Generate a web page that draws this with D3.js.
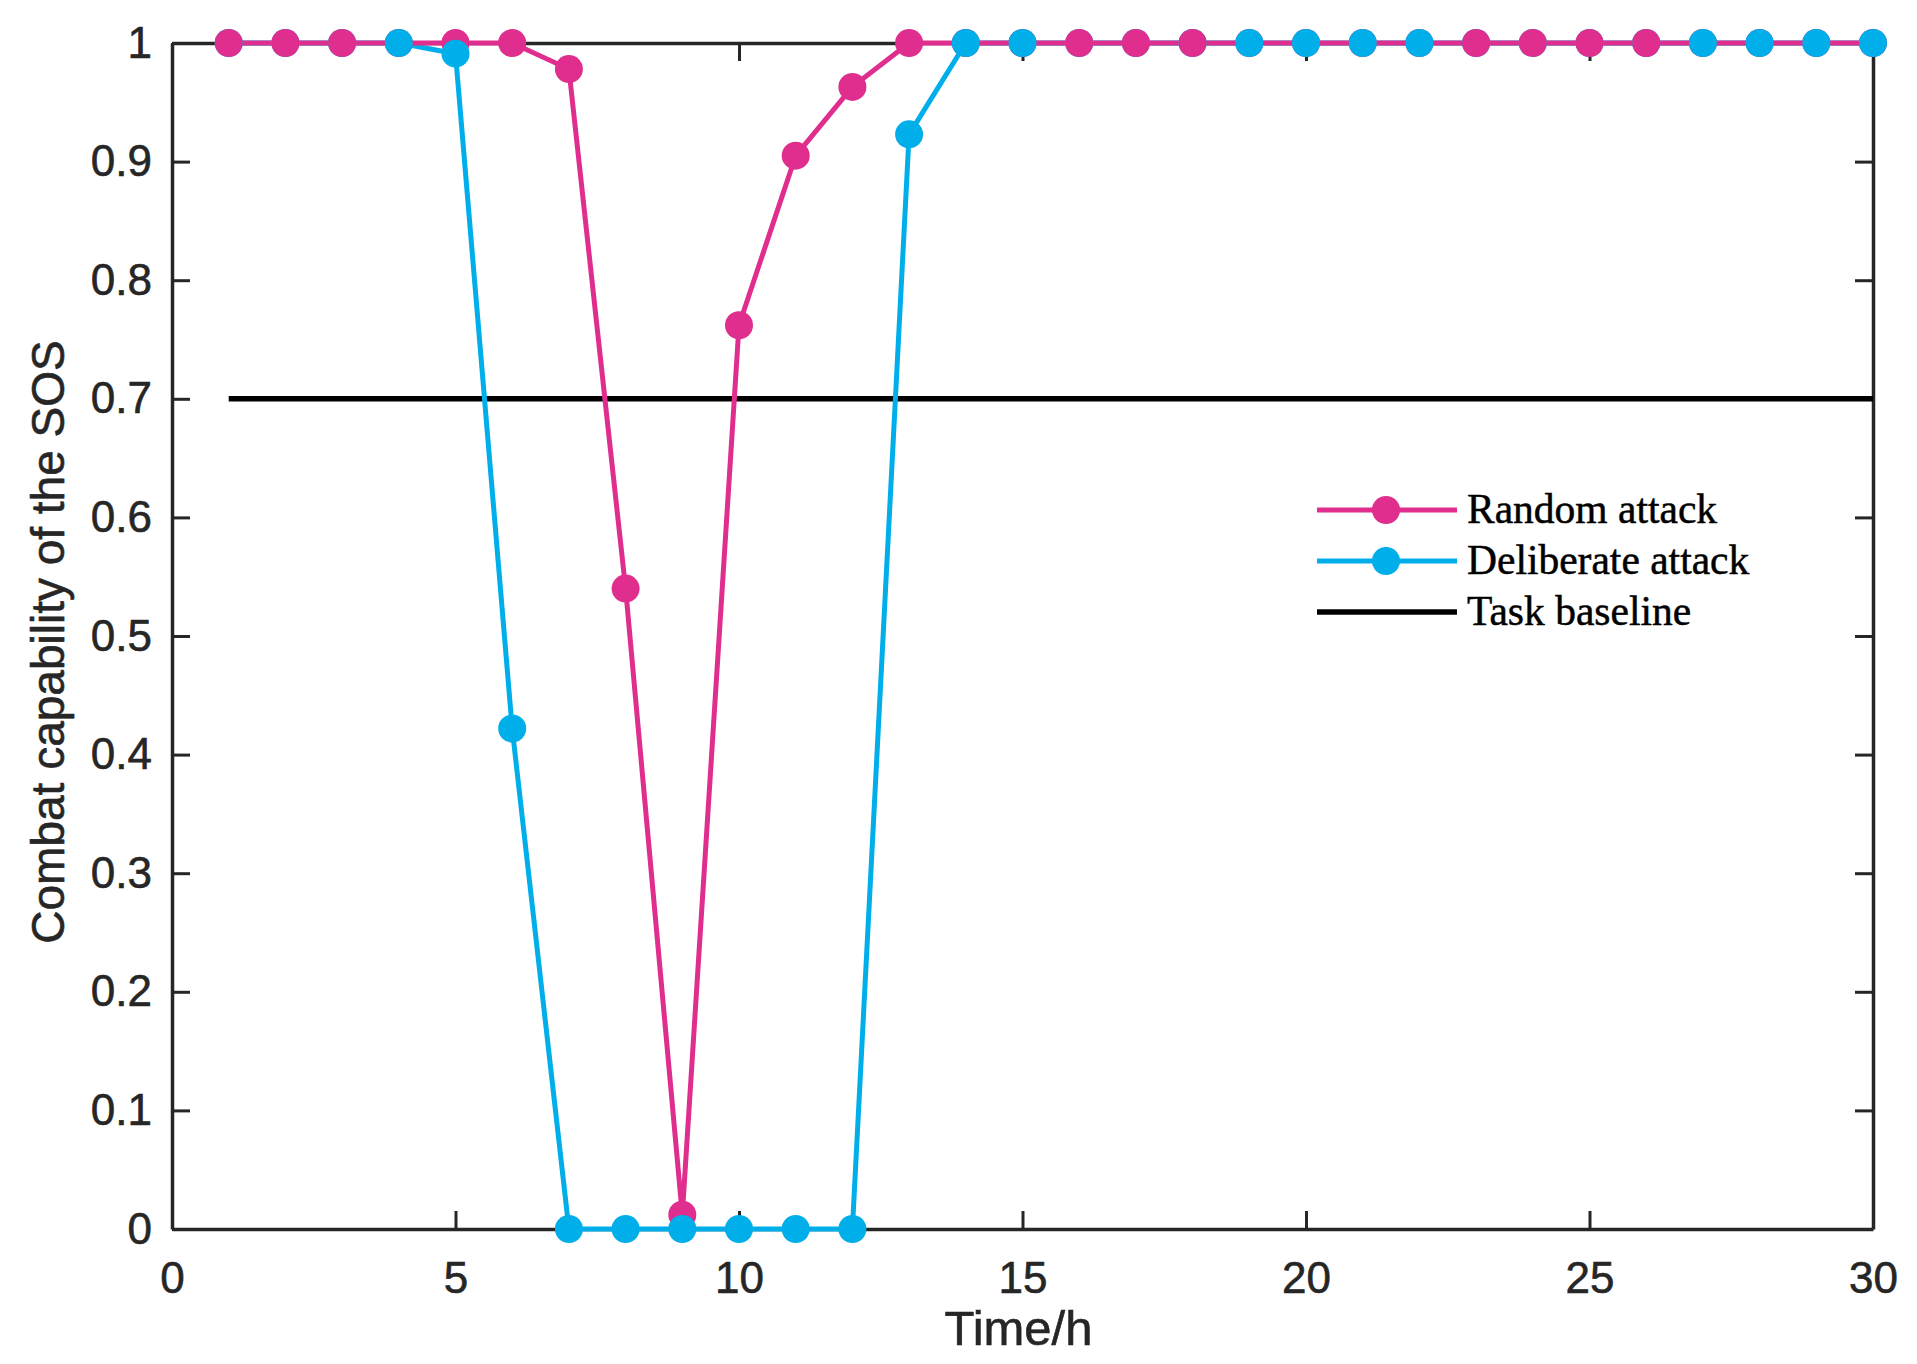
<!DOCTYPE html>
<html>
<head>
<meta charset="utf-8">
<script src="https://cdn.jsdelivr.net/npm/d3@7"></script>
<style>
  body { margin: 0; background: #fff; }
</style>
</head>
<body>
<div id="chart"></div>
<script>
// data
const hours = d3.range(1, 31);
const randomAttack = [1, 1, 1, 1, 1, 1, 0.978, 0.54, 0.012, 0.762, 0.905, 0.963, 1, 1, 1,
                      1, 1, 1, 1, 1, 1, 1, 1, 1, 1, 1, 1, 1, 1, 1];
const deliberateAttack = [1, 1, 1, 1, 0.991, 0.422, 0, 0, 0, 0, 0, 0, 0.923, 1, 1,
                          1, 1, 1, 1, 1, 1, 1, 1, 1, 1, 1, 1, 1, 1, 1];
const baseline = 0.7;
// hours where the blue marker sits over the pink one
const blueOnTop = [4, 5, 9, 14, 15, 19, 20, 21, 22, 27, 28, 29, 30];
const xTicks = [0, 5, 10, 15, 20, 25, 30];
const yTicks = [0, 0.1, 0.2, 0.3, 0.4, 0.5, 0.6, 0.7, 0.8, 0.9, 1];
const legendNames = ["Random attack", "Deliberate attack", "Task baseline"];

const W = 1917, H = 1364;
const mLeft = 172, mRight = 1873, mTop = 43, mBottom = 1229;
const pink = "#E02E8E", blue = "#00AEEA", axisCol = "#262626";

const svg = d3.select("#chart").append("svg")
    .attr("width", W).attr("height", H)
    .style("font-family", "'Liberation Sans', Arial, sans-serif");

const x = d3.scaleLinear().domain([0, 30]).range([mLeft, mRight]);
const y = d3.scaleLinear().domain([0, 1]).range([mBottom, mTop]);

const fmtY = d => d === 0 || d === 1 ? String(d) : d.toFixed(1);

// axes, ticks pointing inward like matlab
const styleAxis = g => {
    g.select(".domain").attr("stroke", axisCol).attr("stroke-width", 3.5);
    g.selectAll(".tick line").attr("stroke", axisCol).attr("stroke-width", 3);
    g.selectAll(".tick text").attr("fill", axisCol).style("font-size", "44px")
        .style("font-family", "'Liberation Sans', Arial, sans-serif")
        .attr("stroke", axisCol).attr("stroke-width", 0.6);
};

svg.append("g")
    .attr("transform", `translate(0, ${mBottom})`)
    .call(d3.axisBottom(x).tickValues(xTicks).tickSizeInner(-18).tickSizeOuter(0).tickPadding(33))
    .call(styleAxis);

svg.append("g")
    .attr("transform", `translate(0, ${mTop})`)
    .call(d3.axisTop(x).tickValues(xTicks).tickSizeInner(-18).tickSizeOuter(0).tickFormat(""))
    .call(styleAxis);

svg.append("g")
    .attr("transform", `translate(${mLeft}, 0)`)
    .call(d3.axisLeft(y).tickValues(yTicks).tickSizeInner(-18).tickSizeOuter(0).tickPadding(20).tickFormat(fmtY))
    .call(styleAxis);

svg.append("g")
    .attr("transform", `translate(${mRight}, 0)`)
    .call(d3.axisRight(y).tickValues(yTicks).tickSizeInner(-18).tickSizeOuter(0).tickFormat(""))
    .call(styleAxis);

// axis titles
svg.append("text")
    .attr("x", (mLeft + mRight) / 2 - 4)
    .attr("y", 1345)
    .attr("text-anchor", "middle")
    .style("font-size", "49px")
    .attr("fill", axisCol).attr("stroke", axisCol).attr("stroke-width", 0.6)
    .text("Time/h");

svg.append("text")
    .attr("transform", `translate(64, ${(mTop + mBottom) / 2 + 6}) rotate(-90)`)
    .attr("text-anchor", "middle")
    .style("font-size", "46px")
    .attr("fill", axisCol).attr("stroke", axisCol).attr("stroke-width", 0.6)
    .text("Combat capability of the SOS");

// baseline
svg.append("line")
    .attr("x1", x(hours[0])).attr("x2", x(hours[hours.length - 1]))
    .attr("y1", y(baseline)).attr("y2", y(baseline))
    .attr("stroke", "#000").attr("stroke-width", 5.5);

const line = d3.line().x(d => x(d[0])).y(d => y(d[1]));
const pinkPts = hours.map((h, i) => [h, randomAttack[i]]);
const bluePts = hours.map((h, i) => [h, deliberateAttack[i]]);

svg.append("path").datum(bluePts)
    .attr("d", line).attr("fill", "none")
    .attr("stroke", blue).attr("stroke-width", 5);
svg.append("path").datum(pinkPts)
    .attr("d", line).attr("fill", "none")
    .attr("stroke", pink).attr("stroke-width", 5);

const R = 14;
const drawDots = (pts, col) => svg.append("g").selectAll("circle")
    .data(pts).join("circle")
    .attr("cx", d => x(d[0])).attr("cy", d => y(d[1]))
    .attr("r", R).attr("fill", col);

drawDots(bluePts.filter(d => !blueOnTop.includes(d[0])), blue);
drawDots(pinkPts, pink);
drawDots(bluePts.filter(d => blueOnTop.includes(d[0])), blue);

// legend, no box
const leg = svg.append("g").attr("transform", "translate(1317, 510)");
const legCols = [pink, blue, "#000"];
legendNames.forEach((name, i) => {
    const g = leg.append("g").attr("transform", `translate(0, ${i * 51})`);
    g.append("line").attr("x1", 0).attr("x2", 140)
        .attr("stroke", legCols[i]).attr("stroke-width", i < 2 ? 5 : 5.5);
    if (i < 2) g.append("circle").attr("cx", 69).attr("r", R).attr("fill", legCols[i]);
    g.append("text")
        .attr("x", 150).attr("y", 13)
        .style("font-family", "'Liberation Serif', 'Times New Roman', serif")
        .style("font-size", "41.5px")
        .attr("fill", "#000").attr("stroke", "#000").attr("stroke-width", 0.5)
        .text(name);
});
</script>
</body>
</html>
